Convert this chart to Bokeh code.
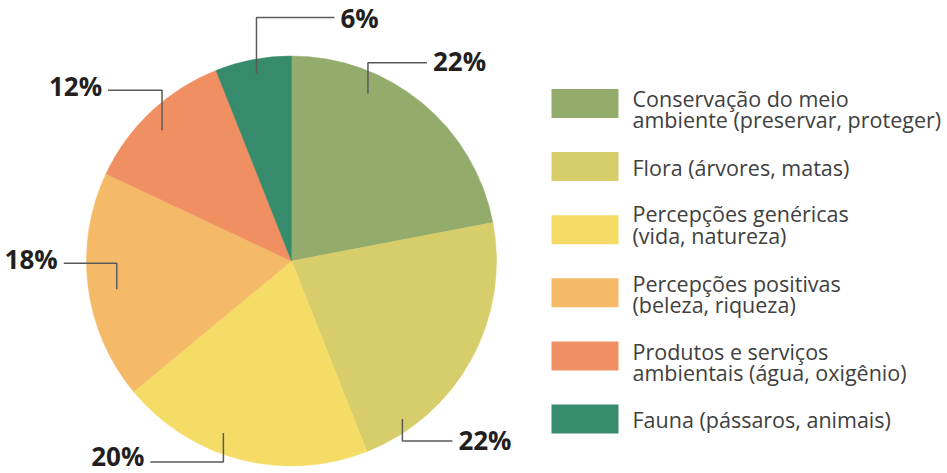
import math
from bokeh.plotting import figure
from bokeh.models import Range1d, ColumnDataSource
from bokeh.core.properties import value
from bokeh.embed import file_html
from bokeh.resources import INLINE

# ---- data ----
categories = [
    "Conservação do meio\nambiente (preservar, proteger)",
    "Flora (árvores, matas)",
    "Percepções genéricas\n(vida, natureza)",
    "Percepções positivas\n(beleza, riqueza)",
    "Produtos e serviços\nambientais (água, oxigênio)",
    "Fauna (pássaros, animais)",
]
percentages = [22, 22, 20, 18, 12, 6]
pct_labels = ["22%", "22%", "20%", "18%", "12%", "6%"]
colors = ["#93AC6C", "#D8CD6B", "#F5DC67", "#F4BA67", "#EF8F62", "#368B6C"]

# ---- layout (pixels) ----
W, H = 947, 473
CX, CY_PIX, R = 291, 260.5, 205
# leader layout: fraction along slice, anchor radius, vertical leg (+up), horizontal leg
lead_t = [0.31, 0.83, 0.60, 0.47, 0.465, 0.51]
lead_r = [184, 193, 185, 177, 184, 190.7]
lead_v = [31, -22, -29, 26, 40, 56]
lead_h = [59, 50, -73, -53, -54, 78]
lab_dy = [0, 0, 5, 3, 3, -2]
LAB_SIZE = 26
LAB_SHIFT = 10.5
LEG_X0, LEG_W, LEG_H = 551, 67, 29
LEG_Y0, LEG_STEP = 103, 63.1
LEG_TXT_X = 632
LEG_FS = 21.5
LEG_SHIFT = 10.5
leg_first_off = [5, 11, -5.5, 0.7, 6, 11]
LINE_GAP = 21.5

def Y(py):
    return H - py

p = figure(width=W, height=H, x_range=Range1d(0, W), y_range=Range1d(0, H),
           output_backend="svg", toolbar_location=None, min_border=0,
           outline_line_color=None, background_fill_color="white",
           border_fill_color="white")
p.axis.visible = False
p.grid.visible = False

total = float(sum(percentages))
starts, ends = [], []
cum = 0.0
for v in percentages:
    s = math.pi / 2 - 2 * math.pi * cum / total
    cum += v
    e = math.pi / 2 - 2 * math.pi * cum / total
    starts.append(s)
    ends.append(e)

src = ColumnDataSource(dict(x=[CX] * len(percentages), y=[Y(CY_PIX)] * len(percentages),
                            start=starts, end=ends, color=colors))
p.wedge(x="x", y="y", radius=R, start_angle="start", end_angle="end",
        direction="clock", fill_color="color", line_color="color", line_width=0.5,
        source=src)

# leader lines and labels
xs_l, ys_l = [], []
lx, ly, lt, la = [], [], [], []
for i in range(len(percentages)):
    a = starts[i] + (ends[i] - starts[i]) * lead_t[i]
    ax = CX + lead_r[i] * math.cos(a)
    ay = Y(CY_PIX) + lead_r[i] * math.sin(a)
    by = ay + lead_v[i]
    bx = ax + lead_h[i]
    xs_l.append([ax, ax, bx])
    ys_l.append([ay, by, by])
    if lead_h[i] > 0:
        lx.append(bx + 6)
        la.append("left")
    else:
        lx.append(bx - 6)
        la.append("right")
    ly.append(by + lab_dy[i] - LAB_SIZE * 0.714 / 2 + LAB_SHIFT)
    lt.append(pct_labels[i])

p.multi_line(xs=xs_l, ys=ys_l, line_color="#5a5a5a", line_width=1.5)
p.text(x=lx, y=ly, text=lt, text_align=la, text_baseline="alphabetic",
       text_font=value("Open Sans"), text_font_style="bold",
       text_font_size=f"{LAB_SIZE}px", text_color="#231F20")

# legend
rx, ry = [], []
tx, ty, tt = [], [], []
for i, cat in enumerate(categories):
    cy = LEG_Y0 + LEG_STEP * i
    rx.append(LEG_X0 + LEG_W / 2)
    ry.append(Y(cy))
    for j, line in enumerate(cat.split("\n")):
        tx.append(LEG_TXT_X)
        ty.append(Y(cy + leg_first_off[i] + j * LINE_GAP) + LEG_SHIFT)
        tt.append(line)
p.rect(x=rx, y=ry, width=LEG_W, height=LEG_H, fill_color=colors, line_color=None)
p.text(x=tx, y=ty, text=tt, text_align="left", text_baseline="alphabetic",
       text_font=value("Open Sans"), text_font_size=f"{LEG_FS}px", text_color="#404040")

open("out.html", "w").write(file_html(p, INLINE))
